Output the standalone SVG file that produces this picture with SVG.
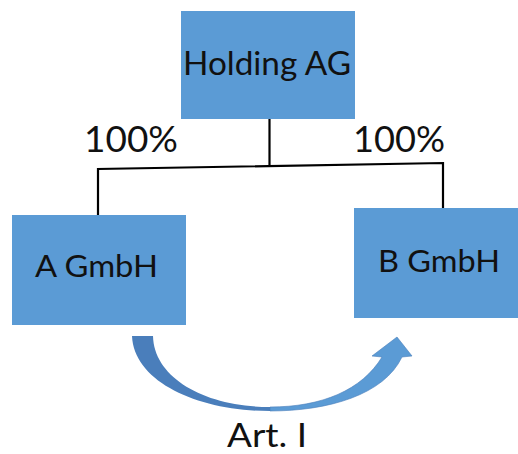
<svg xmlns="http://www.w3.org/2000/svg" width="518" height="454" viewBox="0 0 518 454">
<style>
.box{fill:#5B9BD5;}
.lbl{font-family:Lato,"Open Sans",sans-serif;fill:#111;text-anchor:middle;}
.line{stroke:#000;stroke-width:2.2;fill:none;stroke-linejoin:miter;}
</style>
<rect width="518" height="454" fill="#fff"/>
<g id="connectors">
<polyline class="line" points="269.5,119 269.5,166"/>
<polyline class="line" points="98,215 98,169 443,163 443,208"/>
</g>
<g id="holding">
<rect class="box" x="181" y="11" width="174" height="108"/>
<text class="lbl" x="267" y="75" font-size="32" textLength="168" lengthAdjust="spacingAndGlyphs">Holding AG</text>
</g>
<g id="pct-left"><text class="lbl" x="131" y="152" font-size="37" textLength="94" lengthAdjust="spacingAndGlyphs">100%</text></g>
<g id="pct-right"><text class="lbl" x="399" y="152" font-size="37" textLength="92" lengthAdjust="spacingAndGlyphs">100%</text></g>
<g id="agmbh">
<rect class="box" x="12" y="215" width="174" height="110"/>
<text class="lbl" x="96.5" y="277" font-size="31" textLength="123" lengthAdjust="spacingAndGlyphs">A GmbH</text>
</g>
<g id="bgmbh">
<rect class="box" x="354" y="208" width="164" height="110"/>
<text class="lbl" x="439" y="272" font-size="31" textLength="122" lengthAdjust="spacingAndGlyphs">B GmbH</text>
</g>
<g id="arrow">
<path d="M132,336 L153,336 C154,378 205,407 270,407 L270,411 C198,411 134,382 132,336 Z" fill="#4A7EBB"/>
<path d="M270,411 C328,411 384,395 402,357 L412,356 L397,337 L372,356 L382,357 C362,390 322,407 270,407 Z" fill="#5B9BD5" stroke="#4A7EBB" stroke-width="0.6"/>
</g>
<g id="art"><text class="lbl" x="267" y="447" font-size="33" textLength="80" lengthAdjust="spacingAndGlyphs">Art. I</text></g>
</svg>
